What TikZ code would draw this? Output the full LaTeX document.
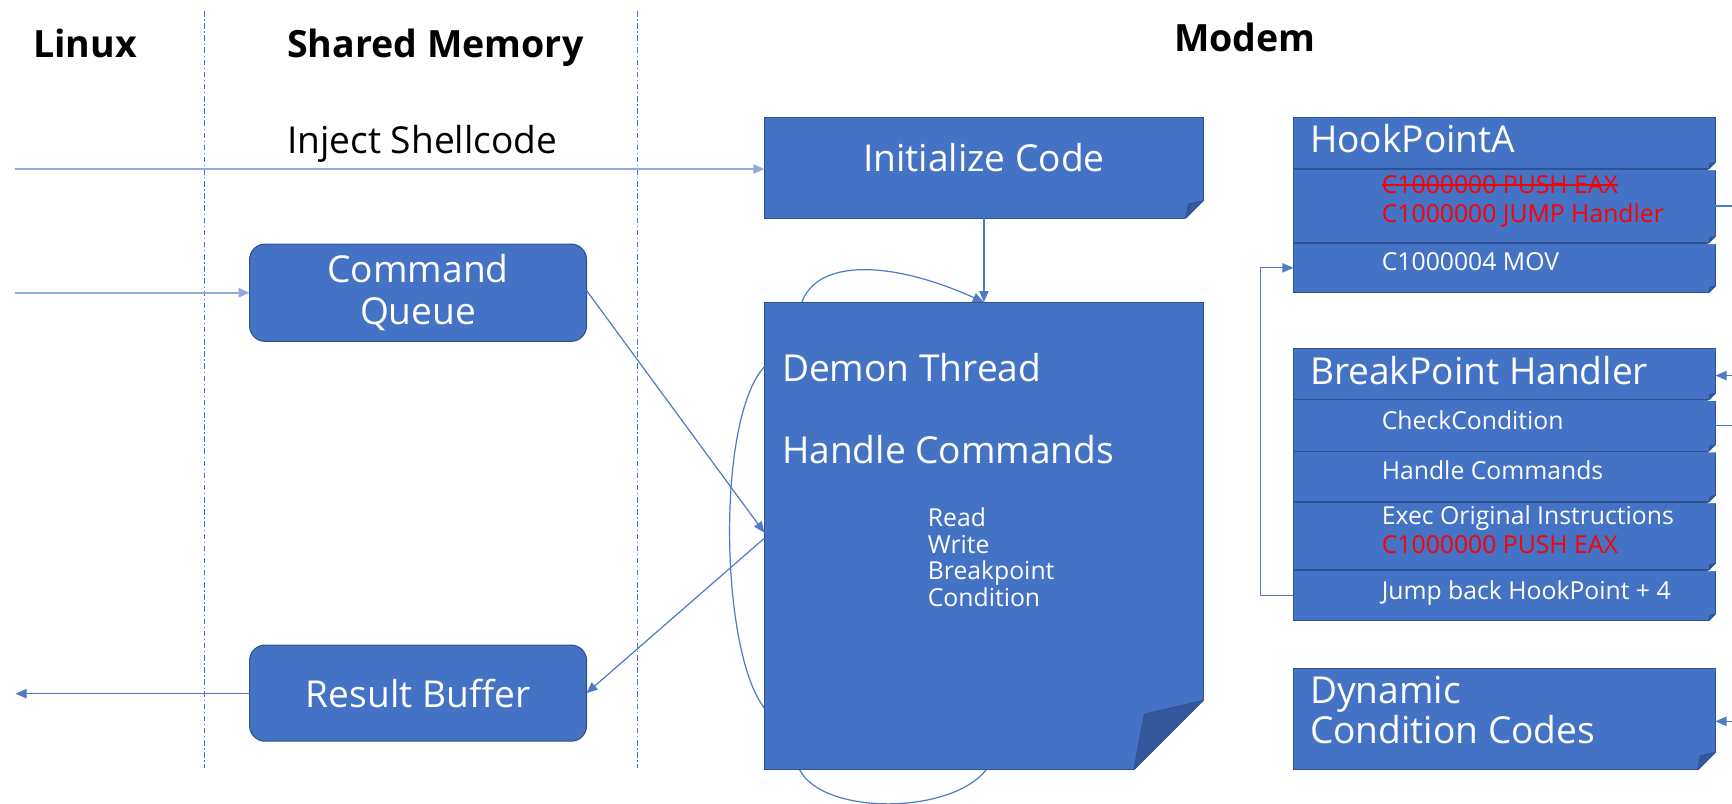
\documentclass[tikz,border=0pt]{standalone}
\usepackage{fontspec}
\setmainfont{Open Sans}
\usetikzlibrary{arrows.meta,calc,backgrounds}

\definecolor{boxblue}{RGB}{68,114,196}
\definecolor{boxedge}{RGB}{47,82,143}
\definecolor{flapblue}{RGB}{52,88,156}
\definecolor{linkblue}{RGB}{79,122,200}
\definecolor{palelink}{RGB}{143,170,220}
\definecolor{laneblue}{RGB}{68,114,196}
\definecolor{codered}{RGB}{255,0,0}

\newcommand{\bigfont}{\fontsize{16.8}{19}\selectfont}
\newcommand{\smallfont}{\fontsize{11.2}{12}\selectfont}
\newcommand{\headfont}{\fontsize{17}{19}\selectfont\bfseries}

\tikzset{
  box/.style={rectangle, fill=boxblue, draw=boxedge, line width=0.5pt, inner sep=0pt, outer sep=0pt},
  roundbox/.style={box, rounded corners=7pt, text=white, align=center, font=\bigfont},
  txt/.style={inner sep=0pt, outer sep=0pt, anchor=base west, text=white},
  bigtxt/.style={txt, font=\bigfont},
  smalltxt/.style={txt, font=\smallfont},
  redtxt/.style={smalltxt, text=codered},
  headtxt/.style={txt, text=black, font=\headfont},
  link/.style={draw=linkblue, line width=0.55pt, -{Triangle[length=5pt,width=4.2pt]}},
  palelinkstyle/.style={link, draw=palelink, line width=0.8pt},
  plainlink/.style={draw=linkblue, line width=0.55pt},
  lane/.style={draw=laneblue, line width=0.5pt, dash pattern=on 2.5pt off 1.2pt on 0.6pt off 1.2pt},
}

% rectangle node from its corners (x1,y1) (x2,y2), in picture units
\newcommand{\rectnode}[6][]{%
  \node[box,#1,minimum width={(#5-#3)*0.5pt},minimum height={(#6-#4)*0.5pt}] (#2) at ({(#3+#5)/2},{(#4+#6)/2}) {};}

% folded lower right corner of a node, fold size in picture units
\newcommand{\foldcorner}[2]{%
  \fill[white] ($(#1.south east)+(1,1)$) -- ($(#1.south east)+(1,{-#2-1})$) -- ($(#1.south east)+({-#2-1},1)$) -- cycle;
  \filldraw[fill=flapblue, draw=boxedge, line width=0.4pt, line join=round]
    ($(#1.south east)+(0,-#2)$) -- ($(#1.south east)+({-0.85*#2},{-0.8*#2})$) -- ($(#1.south east)+(-#2,0)$) -- cycle;}

\begin{document}
\begin{tikzpicture}[x=0.5pt,y=-0.5pt]
\useasboundingbox (0,0) rectangle (1568,727);

% lane separators
\draw[lane] (185,10) -- (185,695);
\draw[lane] (577,10) -- (577,695);

% lane titles
\node[headtxt] (hLinux) at (30,52) {Linux};
\node[headtxt] (hShared) at (260,52) {Shared Memory};
\node[headtxt] (hModem) at (1063,47) {Modem};
\node[txt, text=black, font=\bigfont] (inject) at (260,139) {Inject Shellcode};

% shared memory buffers
\node[roundbox, minimum width=152.5pt, minimum height=44pt] (cq) at (378.5,265) {Command\\Queue};
\node[roundbox, minimum width=152.5pt, minimum height=43.5pt] (rb) at (378.5,627.5) {Result Buffer};

% modem: init code and daemon thread
\rectnode{init}{692}{106}{1089.5}{197.5}
\foldcorner{init}{16}
\node[bigtxt, anchor=base] (initTxt) at (890.75,155.5) {Initialize Code};

\rectnode{demon}{692}{273.5}{1089.5}{697}
\foldcorner{demon}{63}
\node[bigtxt] (dTitle) at (708,345) {Demon Thread};
\node[bigtxt] (dHandle) at (708,419.5) {Handle Commands};
\node[smalltxt] (dRead) at (840,477) {Read};
\node[smalltxt] (dWrite) at (840,501) {Write};
\node[smalltxt] (dBreak) at (840,525) {Breakpoint};
\node[smalltxt] (dCond) at (840,549) {Condition};

% hook point
\rectnode{hp0}{1171}{106}{1553}{153}
\rectnode{hp1}{1171}{153}{1553}{220}
\rectnode{hp2}{1171}{220}{1553}{265}
\foldcorner{hp0}{6}
\foldcorner{hp1}{6}
\foldcorner{hp2}{6}
\node[bigtxt] (hpTitle) at (1186,138) {HookPointA};
\node[redtxt] (hpOld) at (1251,175.5) {C1000000 PUSH EAX};
\draw[codered, line width=0.6pt] ([yshift=4pt]hpOld.base west) -- ([yshift=4pt]hpOld.base east);
\node[redtxt] (hpJump) at (1251,201) {C1000000 JUMP Handler};
\node[smalltxt] (hpMov) at (1251,245) {C1000004 MOV};

% breakpoint handler
\rectnode{bp0}{1171}{315.5}{1553}{362}
\rectnode{bp1}{1171}{362}{1553}{408.5}
\rectnode{bp2}{1171}{408.5}{1553}{454.5}
\rectnode{bp3}{1171}{454.5}{1553}{516}
\rectnode{bp4}{1171}{516}{1553}{562}
\foldcorner{bp0}{6}
\foldcorner{bp1}{6}
\foldcorner{bp2}{6}
\foldcorner{bp3}{6}
\foldcorner{bp4}{6}
\node[bigtxt] (bpTitle) at (1186,348) {BreakPoint Handler};
\node[smalltxt] (bpCheck) at (1251,389) {CheckCondition};
\node[smalltxt] (bpHandle) at (1251,434.5) {Handle Commands};
\node[smalltxt] (bpExec) at (1251,475) {Exec Original Instructions};
\node[redtxt] (bpPush) at (1251,501) {C1000000 PUSH EAX};
\node[smalltxt] (bpBack) at (1251,542.5) {Jump back HookPoint + 4};

% condition codes
\rectnode{dyn}{1171}{605}{1553}{697}
\foldcorner{dyn}{16}
\node[bigtxt] (dynA) at (1186,636.5) {Dynamic};
\node[bigtxt] (dynB) at (1186,673) {Condition Codes};

% open ends of connectors
\coordinate (linuxInject) at (14,153);
\coordinate (linuxCmd) at (14,265);
\coordinate (linuxRes) at (14,628);
\coordinate (hookOut) at (1568,187);
\coordinate (bpIn) at (1568,340);
\coordinate (checkOut) at (1568,385);
\coordinate (dynIn) at (1568,653);

% connectors
\draw[palelinkstyle] (linuxInject) -- (linuxInject -| init.west);
\draw[palelinkstyle] (linuxCmd) -- (linuxCmd -| cq.west);
\draw[link] (linuxRes -| rb.west) -- (linuxRes);
\draw[link] (init.south) -- (demon.north);
\draw[link] ([yshift=1pt]cq.east) -- ([yshift=1.5pt]demon.west);
\draw[link] ([yshift=-1pt]demon.west) -- (rb.east);

\draw[plainlink] (hp1.east) -- (hp1.east -| hookOut);
\draw[link] (bpIn) -- (bpIn -| bp0.east);
\draw[plainlink] (bp1.east) -- (bp1.east -| checkOut);
\draw[link] (dynIn) -- (dynIn -| dyn.east);
\draw[link] (bp4.west) -- ++(-30,0) |- (hp2.west);

% daemon loop, running behind the thread box
\begin{scope}[on background layer]
\draw[link] ([xshift=1pt]demon.south)
  .. controls (860,738) and (745,738) .. (724,697)
  .. controls (708,675) and (698,660) .. (692,641)
  .. controls (652,590) and (648,380) .. (692,332)
  .. controls (700,300) and (712,282) .. (726,273.5)
  .. controls (740,235) and (805,235) .. (demon.north);
\end{scope}
\end{tikzpicture}
\end{document}
